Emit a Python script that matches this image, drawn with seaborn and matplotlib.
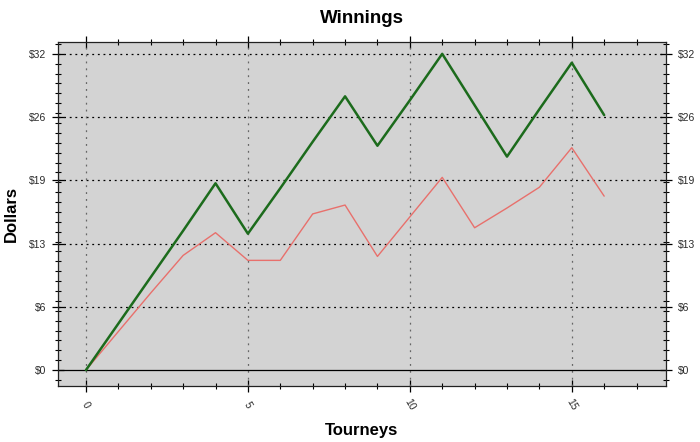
import matplotlib
matplotlib.use("Agg")
import matplotlib.pyplot as plt
import matplotlib.ticker as mticker
import seaborn as sns
import pandas as pd

# values
tourneys = list(range(17))
green_winnings = [0, 4.7, 9.4, 14.1, 18.9, 13.8, 18.4, 23.1, 27.7, 22.7, 27.3, 32.0, 26.8, 21.6, 26.4, 31.1, 25.8]
red_winnings = [0, 3.9, 7.8, 11.6, 13.9, 11.1, 11.1, 15.8, 16.7, 11.5, 15.5, 19.5, 14.4, 16.4, 18.5, 22.5, 17.6]

sns.set_theme(style="white")
plt.rcParams['font.family'] = ['Liberation Sans', 'DejaVu Sans']
plt.rcParams['text.color'] = 'black'
plt.rcParams['axes.labelcolor'] = 'black'

df = pd.DataFrame({
    'tourney': tourneys * 2,
    'dollars': green_winnings + red_winnings,
    'series': ['green'] * len(tourneys) + ['red'] * len(tourneys),
})

fig = plt.figure(figsize=(7, 4.42), dpi=100)
ax = fig.add_axes([0.083, 0.127, 0.868, 0.778])
ax.set_facecolor('#d3d3d3')

# gridlines and zero line below the data
ax.grid(False)
for v in [6.4, 12.8, 19.2, 25.6, 32.0]:
    ax.axhline(v, color='black', lw=0.9, ls=(0, (1.5, 3)), zorder=1)
for v in [0, 5, 10, 15]:
    ax.axvline(v, color='#666666', lw=0.9, ls=(0, (1.5, 4)), zorder=1)
ax.axhline(0, color='black', lw=0.9, zorder=1)

sns.lineplot(data=df[df['series'] == 'red'], x='tourney', y='dollars',
             color='#e8706c', lw=1.0, ax=ax, legend=False, zorder=3)
sns.lineplot(data=df[df['series'] == 'green'], x='tourney', y='dollars',
             color='#1c6b1c', lw=1.8, ax=ax, legend=False, zorder=4)

ax.set_xlim(-0.86, 17.9)
ax.set_ylim(-1.6, 33.2)

ax.xaxis.set_major_locator(mticker.MultipleLocator(5))
ax.xaxis.set_minor_locator(mticker.MultipleLocator(1))
ax.yaxis.set_major_locator(mticker.MultipleLocator(6.4))
ax.yaxis.set_minor_locator(mticker.MultipleLocator(1))
ax.yaxis.set_major_formatter(mticker.FuncFormatter(lambda v, p: f"${v:.0f}"))

ax.tick_params(which='major', direction='inout', length=9, width=0.9, color='black',
               labelsize=7.5, labelcolor='#2a2a2a', top=True, right=True,
               labelright=True, bottom=True, left=True, pad=4)
ax.tick_params(which='minor', direction='inout', length=5, width=0.8, color='black',
               top=True, right=True, bottom=True, left=True)
ax.tick_params(axis='x', which='major', pad=9)
for lbl in ax.get_xticklabels():
    lbl.set_rotation(-60)
    lbl.set_ha('center')
    lbl.set_va('center')

for sp in ax.spines.values():
    sp.set_color('#222222')
    sp.set_linewidth(0.9)

ax.set_title("Winnings", fontsize=13.5, fontweight='bold', pad=14, color='black')
ax.set_xlabel("Tourneys", fontsize=12, fontweight='bold', labelpad=8)
ax.set_ylabel("Dollars", fontsize=12, fontweight='bold')
ax.yaxis.set_label_coords(-0.064, 0.5)

fig.savefig("out.png", dpi=100)
